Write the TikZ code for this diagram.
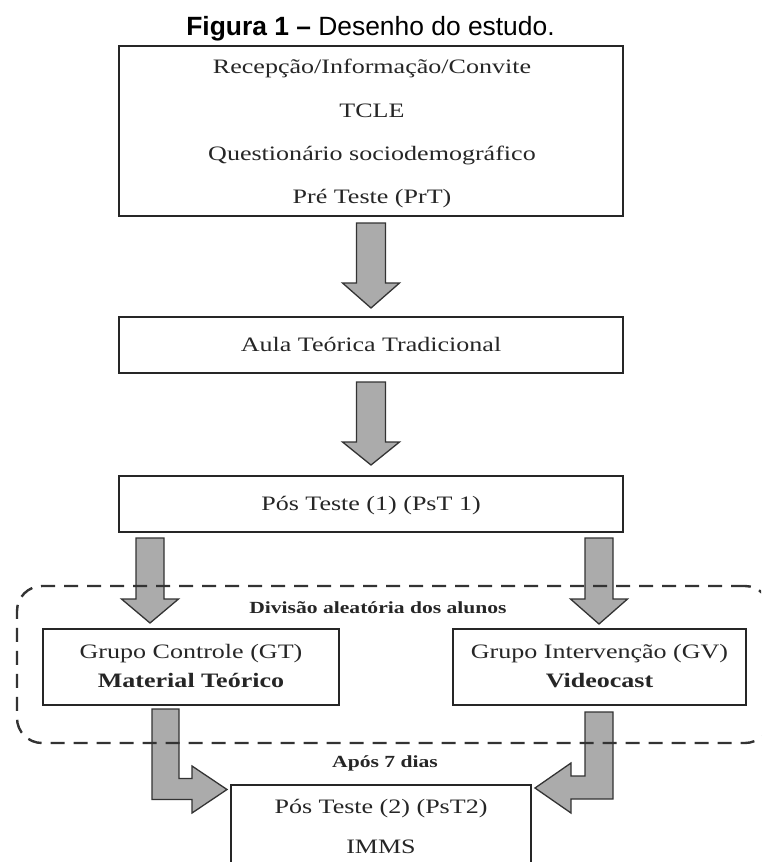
\documentclass[tikz,border=0pt]{standalone}
\usepackage{fontspec}
\setmainfont{Liberation Serif}[FakeStretch=1.27]
\newfontfamily\titlefont{Liberation Sans}
\usetikzlibrary{calc}
\tikzset{
  box/.style={draw=black!85, line width=1.8pt, fill=white, inner sep=0pt, outer sep=0pt},
  blk/.style={draw=black!80, line width=1.3pt, fill=black!33, line join=miter},
  txt/.style={anchor=base, inner sep=0pt, text=black!85, font=\fontsize{20.5}{24}\selectfont},
  btxt/.style={txt, font=\fontsize{20.5}{24}\selectfont\bfseries},
  stxt/.style={txt, font=\fontsize{17}{20}\selectfont\bfseries},
  grpbox/.style={draw=black!80, line width=2.4pt, dash pattern=on 14pt off 9pt, rounded corners=25pt, inner sep=0pt}
}
\begin{document}
\begin{tikzpicture}[x=1pt,y=1pt]
\useasboundingbox (0,0) rectangle (761,-862);
\clip (0,0) rectangle (761,-862);

% title
\node[anchor=base, inner sep=0pt, font=\titlefont\fontsize{26.4}{30}\selectfont] (title) at (370.5,-35) {\textbf{Figura 1 –} Desenho do estudo.};

% boxes
\node[box, minimum width=504pt, minimum height=170pt] (b1) at (371,-131) {};
\node[box, minimum width=504pt, minimum height=56pt] (b2) at (371,-345) {};
\node[box, minimum width=504pt, minimum height=56pt] (b3) at (371,-504) {};
\node[box, minimum width=296pt, minimum height=76pt] (gc) at (191,-667) {};
\node[box, minimum width=293pt, minimum height=76pt] (gv) at (599.5,-667) {};
\node[box, minimum width=300pt, minimum height=100pt] (b4) at (381,-835) {};

% texts
\node[txt] (t1a) at (372,-73) {Recepção/Informação/Convite};
\node[txt] (t1b) at (372,-117) {TCLE};
\node[txt] (t1c) at (372,-160) {Questionário sociodemográfico};
\node[txt] (t1d) at (372,-203) {Pré Teste (PrT)};
\node[txt] (t2) at (371,-351) {Aula Teórica Tradicional};
\node[txt] (t3) at (371,-510) {Pós Teste (1) (PsT 1)};
\node[txt] (tgc1) at (191,-658) {Grupo Controle (GT)};
\node[btxt] (tgc2) at (191,-687) {Material Teórico};
\node[txt] (tgv1) at (599.5,-658) {Grupo Intervenção (GV)};
\node[btxt] (tgv2) at (599.5,-687) {Videocast};
\node[stxt] (tdiv) at (378,-613) {Divisão aleatória dos alunos};
\node[stxt] (tapos) at (385,-767) {Após 7 dias};
\node[txt] (t4a) at (381,-813) {Pós Teste (2) (PsT2)};
\node[txt] (t4b) at (381,-853) {IMMS};

% straight block arrows
\draw[blk] let \p1=(b1.south), \p2=(b2.north) in
  (\x1-14.5pt,\y1-7pt) -- (\x1+14.5pt,\y1-7pt) -- (\x1+14.5pt,\y2+34pt) -- (\x1+28.5pt,\y2+34pt)
  -- (\x1,\y2+9pt) -- (\x1-28.5pt,\y2+34pt) -- (\x1-14.5pt,\y2+34pt) -- cycle;
\draw[blk] let \p1=(b2.south), \p2=(b3.north) in
  (\x1-14.5pt,\y1-9pt) -- (\x1+14.5pt,\y1-9pt) -- (\x1+14.5pt,\y2+34pt) -- (\x1+28.5pt,\y2+34pt)
  -- (\x1,\y2+11pt) -- (\x1-28.5pt,\y2+34pt) -- (\x1-14.5pt,\y2+34pt) -- cycle;

\path (b3.south west) ++(31pt,0) coordinate (s3l);
\path (b3.south east) ++(-24pt,0) coordinate (s3r);
\draw[blk] let \p1=(s3l), \p2=(gc.north) in
  (\x1-14pt,\y1-6pt) -- (\x1+14pt,\y1-6pt) -- (\x1+14pt,\y2+30pt) -- (\x1+28.5pt,\y2+30pt)
  -- (\x1,\y2+6pt) -- (\x1-28.5pt,\y2+30pt) -- (\x1-14pt,\y2+30pt) -- cycle;
\draw[blk] let \p1=(s3r), \p2=(gv.north) in
  (\x1-14pt,\y1-6pt) -- (\x1+14pt,\y1-6pt) -- (\x1+14pt,\y2+30pt) -- (\x1+28.5pt,\y2+30pt)
  -- (\x1,\y2+5pt) -- (\x1-28.5pt,\y2+30pt) -- (\x1-14pt,\y2+30pt) -- cycle;

% bent block arrows
\draw[blk] let \p1=($(gc.south west)+(109pt,0)$), \p2=($(b4.north west)+(-4pt,-4.5pt)$) in
  (\x1,\y1-4pt) -- (\x1+27pt,\y1-4pt) -- (\x1+27pt,\y2+11pt) -- (\x2-35pt,\y2+11pt)
  -- (\x2-35pt,\y2+23.5pt) -- (\p2) -- (\x2-35pt,\y2-23.5pt) -- (\x2-35pt,\y2-10pt)
  -- (\x1,\y2-10pt) -- cycle;
\draw[blk] let \p1=($(gv.south east)+(-133pt,0)$), \p2=($(b4.north east)+(4pt,-3pt)$) in
  (\x1,\y1-7pt) -- (\x1-28pt,\y1-7pt) -- (\x1-28pt,\y2+12pt) -- (\x2+36pt,\y2+12pt)
  -- (\x2+36pt,\y2+25pt) -- (\p2) -- (\x2+36pt,\y2-25pt) -- (\x2+36pt,\y2-11pt)
  -- (\x1,\y2-11pt) -- cycle;

% dashed group
\node[grpbox, minimum width=753pt, minimum height=157pt] (grp) at (393.5,-664.5) {};
\end{tikzpicture}
\end{document}
